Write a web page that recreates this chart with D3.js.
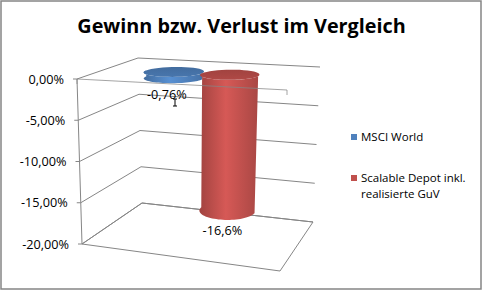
<!DOCTYPE html>
<html>
<head>
<meta charset="utf-8">
<script src="https://cdn.jsdelivr.net/npm/d3@7"></script>
<style>
  body { margin: 0; background: #fff; }
  svg { display: block; }
</style>
</head>
<body>
<svg id="chart" width="483" height="291"></svg>
<script>
// chart data
var seriesNames = ['MSCI World', 'Scalable Depot inkl. realisierte GuV'];
var legendLines = [['MSCI World'], ['Scalable Depot inkl.', 'realisierte GuV']];
var seriesValues = [-0.76, -16.6];
var seriesColors = ['#4f81bd', '#c0504d'];
var tickValues = [0, -5, -10, -15, -20];
var chartTitle = 'Gewinn bzw. Verlust im Vergleich';

var W = 483, H = 291;
var GRID = '#868686';
var FONT = '"Open Sans", "DejaVu Sans", sans-serif';

// corners of the 3d box, front/back x left/right x top (0%) / bottom (-20%)
var box = {
  flt: [77, 79], frt: [287, 90], flb: [82, 244], frb: [280, 271],
  blt: [138, 58], brt: [320, 67], blb: [142, 203], brb: [313, 222]
};

var de = d3.formatLocale({decimal: ',', thousands: '.', grouping: [3],
                          currency: ['', ' €'], minus: '-'});
var tickFormat = function(d) { return de.format('.2f')(d) + '%'; };
var labelFormat = function(d) { return de.format('.2~f')(d) + '%'; };

// value -> fraction down the wall, series -> position along the category axis
var y = d3.scaleLinear().domain([0, -20]).range([0, 1]);
var x = d3.scaleBand().domain(seriesNames).range([0, 1])
    .paddingInner(0).paddingOuter(0.75).align(0.46);

function lerp(a, b, t) {
  return [a[0] + (b[0] - a[0]) * t, a[1] + (b[1] - a[1]) * t];
}
// u: along categories, v: down the value axis, w: depth (0 front, 1 back)
function project(u, v, w) {
  var front = lerp(lerp(box.flt, box.flb, v), lerp(box.frt, box.frb, v), u);
  var back = lerp(lerp(box.blt, box.blb, v), lerp(box.brt, box.brb, v), u);
  return lerp(front, back, w);
}

var svg = d3.select('#chart');
var line = d3.line();

svg.append('rect')
    .attr('x', 1).attr('y', 1).attr('width', W - 3).attr('height', H - 3)
    .attr('fill', '#fff').attr('stroke', '#858585').attr('stroke-width', 1.5);

// defs: gradients for the cylinders
var defs = svg.append('defs');
seriesColors.forEach(function(c, i) {
  var base = d3.color(c);
  var g = defs.append('linearGradient').attr('id', 'body' + i)
      .attr('x1', 0).attr('x2', 1).attr('y1', 0).attr('y2', 0);
  g.append('stop').attr('offset', '0%').attr('stop-color', base.darker(0.5));
  g.append('stop').attr('offset', '45%').attr('stop-color', base.brighter(0.3));
  g.append('stop').attr('offset', '100%').attr('stop-color', base.darker(0.35));
  var t = defs.append('linearGradient').attr('id', 'top' + i)
      .attr('x1', 0).attr('x2', 0).attr('y1', 0).attr('y2', 1);
  t.append('stop').attr('offset', '0%').attr('stop-color', base.darker(0.5));
  t.append('stop').attr('offset', '100%').attr('stop-color', base.darker(0.25));
});

var grid = svg.append('g')
    .attr('fill', 'none').attr('stroke', GRID).attr('stroke-width', 1);

// floor
grid.append('path')
    .attr('d', line([project(0, 1, 0), project(1, 1, 0), project(1, 1, 1),
                     project(0, 1, 1)]) + 'Z');

// side and back wall gridlines
tickValues.forEach(function(t) {
  var v = y(t);
  grid.append('path')
      .attr('d', line([project(0, v, 0), project(0, v, 1), project(1, v, 1)]));
});

// value axis
grid.append('path').attr('d', line([project(0, 0, 0), project(0, 1, 0)]));
tickValues.forEach(function(t) {
  var p = project(0, y(t), 0);
  grid.append('path').attr('d', line([[p[0] - 4, p[1]], p]));
  svg.append('text')
      .attr('x', p[0] - 13).attr('y', p[1] + 4.5)
      .attr('text-anchor', 'end')
      .attr('font-family', FONT).attr('font-size', 12.7).attr('fill', '#000')
      .text(tickFormat(t));
});

// cylinders
var RW = 0.22, WC = 0.5;
function ring(uc, ru, v, t0, t1) {
  var pts = [];
  for (var k = 0; k <= 40; k++) {
    var t = t0 + (t1 - t0) * k / 40;
    pts.push(project(uc + ru * Math.cos(t), v, WC + RW * Math.sin(t)));
  }
  return pts;
}

seriesNames.forEach(function(name, i) {
  var uc = x(name) + x.bandwidth() / 2, ru = x.bandwidth() / 2;
  var v0 = y(0), v1 = y(seriesValues[i]);
  var body = ring(uc, ru, v1, Math.PI, 2 * Math.PI)
      .concat(ring(uc, ru, v0, 2 * Math.PI, Math.PI));
  svg.append('path').attr('d', line(body) + 'Z')
      .attr('fill', 'url(#body' + i + ')');
  svg.append('path').attr('d', line(ring(uc, ru, v0, 0, 2 * Math.PI)) + 'Z')
      .attr('fill', 'url(#top' + i + ')');
});

// category axis line at 0%, drawn over the bars
var axisFront = svg.append('g').attr('fill', 'none').attr('stroke', GRID)
    .attr('stroke-opacity', 0.75);
axisFront.append('path').attr('d', line([project(0, 0, 0), project(1, 0, 0)]));
[0, 1].forEach(function(u) {
  var p = project(u, 0, 0);
  axisFront.append('path').attr('d', line([p, [p[0], p[1] + 5]]));
});

// data labels
seriesNames.forEach(function(name, i) {
  var uc = x(name) + x.bandwidth() / 2;
  var p = project(uc, y(seriesValues[i]), WC - RW);
  svg.append('text')
      .attr('x', p[0] + 4).attr('y', p[1] + 16)
      .attr('text-anchor', 'middle')
      .attr('font-family', FONT).attr('font-size', 12.7).attr('fill', '#000')
      .text(labelFormat(seriesValues[i]));
});

// mouse cursor caught in the screenshot
svg.append('path').attr('d', 'M173,99h4M175,99v7M173,106h4')
    .attr('stroke', '#000').attr('stroke-width', 1).attr('fill', 'none');

// legend
var legend = svg.append('g').attr('transform', 'translate(351,134)');
var legendY = [0, 41];
seriesNames.forEach(function(name, i) {
  var g = legend.append('g').attr('transform', 'translate(0,' + legendY[i] + ')');
  g.append('rect').attr('width', 6).attr('height', 6).attr('fill', seriesColors[i]);
  legendLines[i].forEach(function(s, j) {
    g.append('text')
        .attr('x', 10).attr('y', 7 + j * 16)
        .attr('font-family', FONT).attr('font-size', 11.5).attr('fill', '#000')
        .text(s);
  });
});

// title
svg.append('text')
    .attr('x', W / 2).attr('y', 33)
    .attr('text-anchor', 'middle')
    .attr('font-family', FONT).attr('font-size', 19.8).attr('font-weight', 'bold')
    .attr('fill', '#000')
    .text(chartTitle);
</script>
</body>
</html>
